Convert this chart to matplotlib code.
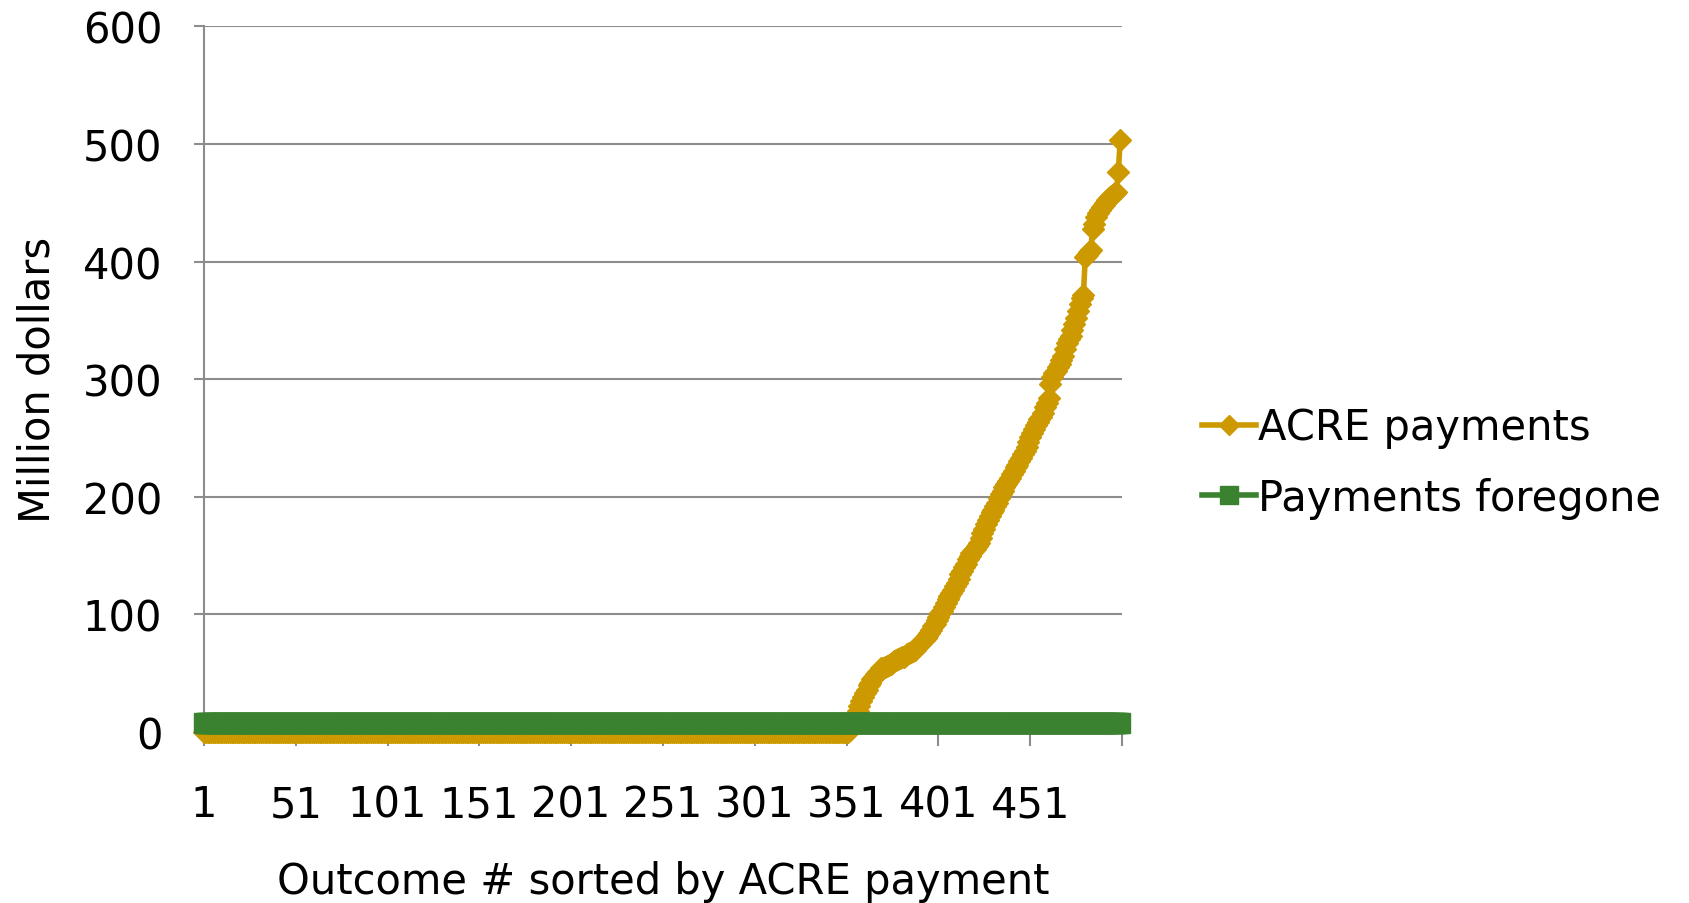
import matplotlib
matplotlib.use("Agg")
import matplotlib.pyplot as plt
import numpy as np

# Outcomes 1..500, sorted by ACRE payment (million dollars)
n_outcomes = 500
acre_zero_count = 352
acre_positive = [
    2, 6, 10, 14, 18, 22, 26, 30, 33, 36,
    40, 42, 45, 47, 49, 51, 52, 54, 54, 55,
    56, 57, 58, 59, 60, 61, 62, 63, 64, 64,
    65, 66, 67, 68, 69, 70, 71, 73, 75, 77,
    78, 80, 82, 84, 87, 90, 92, 95, 98, 101,
    103, 106, 110, 113, 116, 118, 121, 124, 127, 130,
    134, 137, 140, 143, 147, 150, 152, 154, 156, 158,
    161, 165, 169, 173, 177, 180, 184, 187, 189, 192,
    195, 199, 202, 205, 208, 211, 213, 216, 219, 222,
    225, 227, 230, 233, 236, 239, 242, 247, 251, 254,
    258, 261, 264, 266, 268, 271, 276, 280, 284, 296,
    302, 305, 307, 310, 313, 316, 320, 326, 331, 334,
    337, 342, 347, 352, 358, 364, 369, 372, 404, 406,
    408, 410, 428, 432, 438, 441, 444, 446, 448, 450,
    452, 454, 456, 457, 458, 459, 476, 503,
]
acre_payments = [0] * acre_zero_count + acre_positive
payments_foregone = [8] * n_outcomes

outcomes = np.arange(1, n_outcomes + 1)
x_ticks = list(range(1, 502, 50))
x_tick_labels = ["1", "51", "101", "151", "201", "251", "301", "351", "401", "451", ""]
y_ticks = [0, 100, 200, 300, 400, 500, 600]

acre_color = "#CC9A00"
foregone_color = "#3A8230"
axis_gray = "#8C8C8C"

plt.rcParams["font.family"] = ["DejaVu Sans"]
plt.rcParams["font.size"] = 30

fig = plt.figure(figsize=(16.9, 9.04), dpi=100)
ax = fig.add_axes([0.1207, 0.1892, 0.5432, 0.7805])

ax.plot(outcomes, acre_payments, color=acre_color, lw=4, marker="D",
        ms=11, mew=1, mec=acre_color, mfc=acre_color,
        label="ACRE payments", clip_on=False, zorder=3)
ax.plot(outcomes, payments_foregone, color=foregone_color, lw=4, marker="s",
        ms=15, mew=1, mec=foregone_color, mfc=foregone_color,
        label="Payments foregone", clip_on=False, zorder=4)

ax.set_xlim(1, 501)
ax.set_ylim(0, 600)
ax.set_xticks(x_ticks)
ax.set_xticklabels(x_tick_labels)
ax.set_yticks(y_ticks)

ax.yaxis.grid(True, color=axis_gray, lw=1.5)
ax.set_axisbelow(True)
for side in ("top", "right"):
    ax.spines[side].set_visible(False)
for side in ("left", "bottom"):
    ax.spines[side].set_color(axis_gray)
    ax.spines[side].set_linewidth(1.5)

ax.tick_params(axis="y", direction="out", length=7, width=1.5,
               color=axis_gray, pad=23, labelsize=30)
ax.tick_params(axis="x", direction="out", length=10, width=1.5,
               color=axis_gray, pad=27, labelsize=30)

ax.set_xlabel("Outcome # sorted by ACRE payment", fontsize=30)
ax.xaxis.set_label_coords(0.5, -0.181)
ax.set_ylabel("Million dollars", fontsize=30)
ax.yaxis.set_label_coords(-0.158, 0.5)

fig.legend(loc="center left", bbox_to_anchor=(0.7112, 0.4873),
           frameon=False, borderpad=0, borderaxespad=0,
           handlelength=1.3, handletextpad=0.05, labelspacing=0.68,
           markerscale=0.9, fontsize=30)

fig.savefig("out.png", dpi=100, facecolor="white")
